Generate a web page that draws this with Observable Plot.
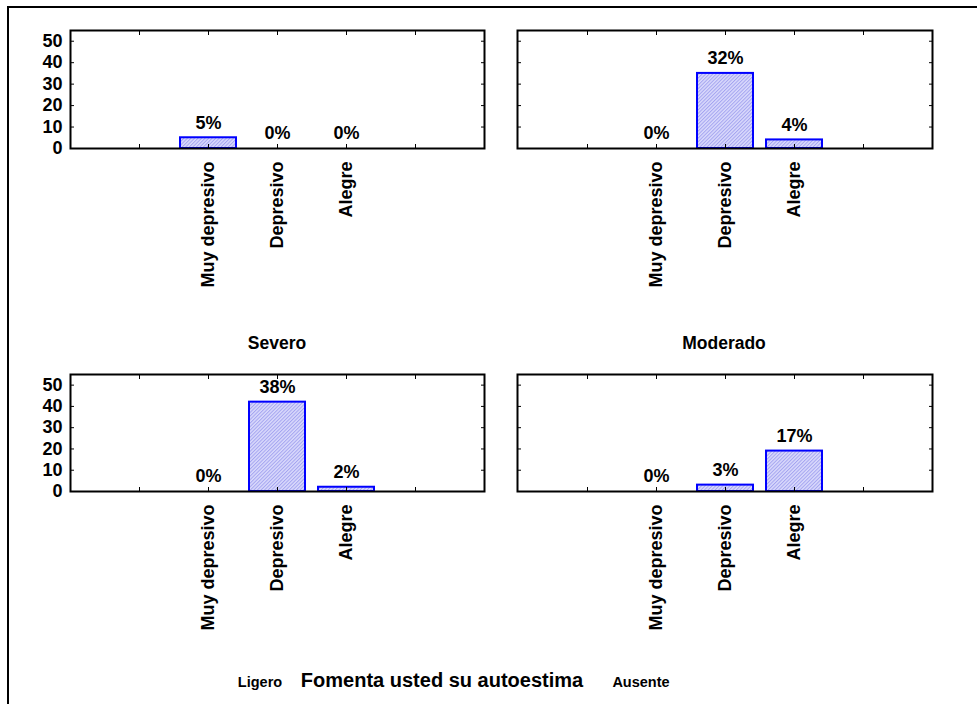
<!DOCTYPE html>
<html><head><meta charset="utf-8">
<script src="https://cdn.jsdelivr.net/npm/d3@7"></script>
<script src="https://cdn.jsdelivr.net/npm/@observablehq/plot@0.6"></script>
<style>
body{margin:0;background:#fff;}
#wrap{position:relative;width:977px;height:704px;overflow:hidden;background:#fff;font-family:"Liberation Sans",Arial,sans-serif;}
#border{position:absolute;left:7px;top:6px;width:1100px;height:1100px;border:2px solid #000;box-sizing:border-box;}
.lbl{position:absolute;font-weight:bold;line-height:1;white-space:nowrap;transform:translateX(-50%);color:#000;}
.panel{position:absolute;}
</style></head><body><div id="wrap"><div id="border"></div></div>
<script>
// ---- data ----
const categories = ["Muy depresivo", "Depresivo", "Alegre"];
const panelNames = ["Severo", "Moderado", "Ligero", "Ausente"];
const severoValues = [5, 0, 0];
const moderadoValues = [0, 35, 4];
const ligeroValues = [0, 42, 2];
const ausenteValues = [0, 3, 19];
const severoLabels = ["5%", "0%", "0%"];
const moderadoLabels = ["0%", "32%", "4%"];
const ligeroLabels = ["0%", "38%", "2%"];
const ausenteLabels = ["0%", "3%", "17%"];
const yTicks = [0, 10, 20, 30, 40, 50];
const xTitle = "Fomenta usted su autoestima";

// ---- layout ----
const layouts = [
  {left: 70, top: 30, w: 414, h: 118, yLabels: true, lx: 277, ly: 350, ls: 17.5},
  {left: 517, top: 30, w: 415, h: 118, yLabels: false, lx: 724, ly: 350, ls: 17.5},
  {left: 70, top: 374, w: 414, h: 117, yLabels: true, lx: 260, ly: 687, ls: 14.5},
  {left: 517, top: 374, w: 415, h: 117, yLabels: false, lx: 641, ly: 687, ls: 14.5}
];
const allValues = [severoValues, moderadoValues, ligeroValues, ausenteValues];
const allLabels = [severoLabels, moderadoLabels, ligeroLabels, ausenteLabels];

const wrap = d3.select("#wrap");

// hatch pattern
const defsSvg = wrap.append("svg").attr("width", 0).attr("height", 0).style("position", "absolute");
const pat = defsSvg.append("defs").append("pattern").attr("id", "hatch")
  .attr("patternUnits", "userSpaceOnUse").attr("width", 2.5).attr("height", 2.5)
  .attr("patternTransform", "rotate(45)");
pat.append("rect").attr("width", 2.5).attr("height", 2.5).attr("fill", "#dadafc");
pat.append("line").attr("x1", 0.5).attr("y1", 0).attr("x2", 0.5).attr("y2", 2.5)
  .attr("stroke", "#a4a4f0").attr("stroke-width", 1);

function panel(values, labels, L) {
  const data = categories.map((c, i) => ({cat: c, value: values[i], label: labels[i]}));
  const domain = ["", ...categories, " "];
  const ml = 60, mt = 12, mr = 4, mb = 170;
  const chart = Plot.plot({
    width: L.w + ml + mr, height: L.h + mt + mb,
    marginLeft: ml, marginTop: mt, marginRight: mr, marginBottom: mb,
    style: {fontFamily: '"Liberation Sans", Arial, sans-serif', fontSize: "18px", fontWeight: "bold",
            color: "#000", background: "transparent", overflow: "visible"},
    x: {type: "band", domain, paddingInner: 0.19, paddingOuter: 0.595},
    y: {domain: [0, 55]},
    marks: [
      Plot.barY(data, {x: "cat", y: "value", fill: "url(#hatch)", stroke: "#0000ff", strokeWidth: 2}),
      Plot.text(data, {x: "cat", y: "value", text: "label", dy: -15, fill: "#000"}),
      Plot.axisX({anchor: "bottom", tickSize: 0, tickPadding: 13, tickRotate: -90, tickFormat: d => d.trim(), label: null}),
      Plot.axisX({anchor: "bottom", tickSize: -4, tickFormat: () => "", label: null}),
      Plot.axisX({anchor: "top", tickSize: -4, tickFormat: () => "", label: null}),
      Plot.axisY(yTicks, {anchor: "left", tickSize: 0, tickPadding: 8, tickFormat: L.yLabels ? (d => String(d)) : (() => ""), label: null}),
      Plot.axisY(yTicks, {anchor: "left", tickSize: -4, tickFormat: () => "", label: null}),
      Plot.axisY(yTicks, {anchor: "right", tickSize: -4, tickFormat: () => "", label: null}),
      Plot.frame({stroke: "#000", strokeWidth: 2})
    ]
  });
  const div = wrap.append("div").attr("class", "panel")
    .style("left", (L.left - ml) + "px").style("top", (L.top - mt) + "px")
    .style("width", (L.w + ml + mr) + "px");
  div.node().appendChild(chart);
}

function label(text, cx, baseline, size) {
  wrap.append("div").attr("class", "lbl")
    .style("left", cx + "px").style("top", (baseline - 0.847 * size) + "px")
    .style("font-size", size + "px").text(text);
}

layouts.forEach((L, i) => {
  panel(allValues[i], allLabels[i], L);
  label(panelNames[i], L.lx, L.ly, L.ls);
});
label(xTitle, 442, 687, 20);
</script>
</body></html>
